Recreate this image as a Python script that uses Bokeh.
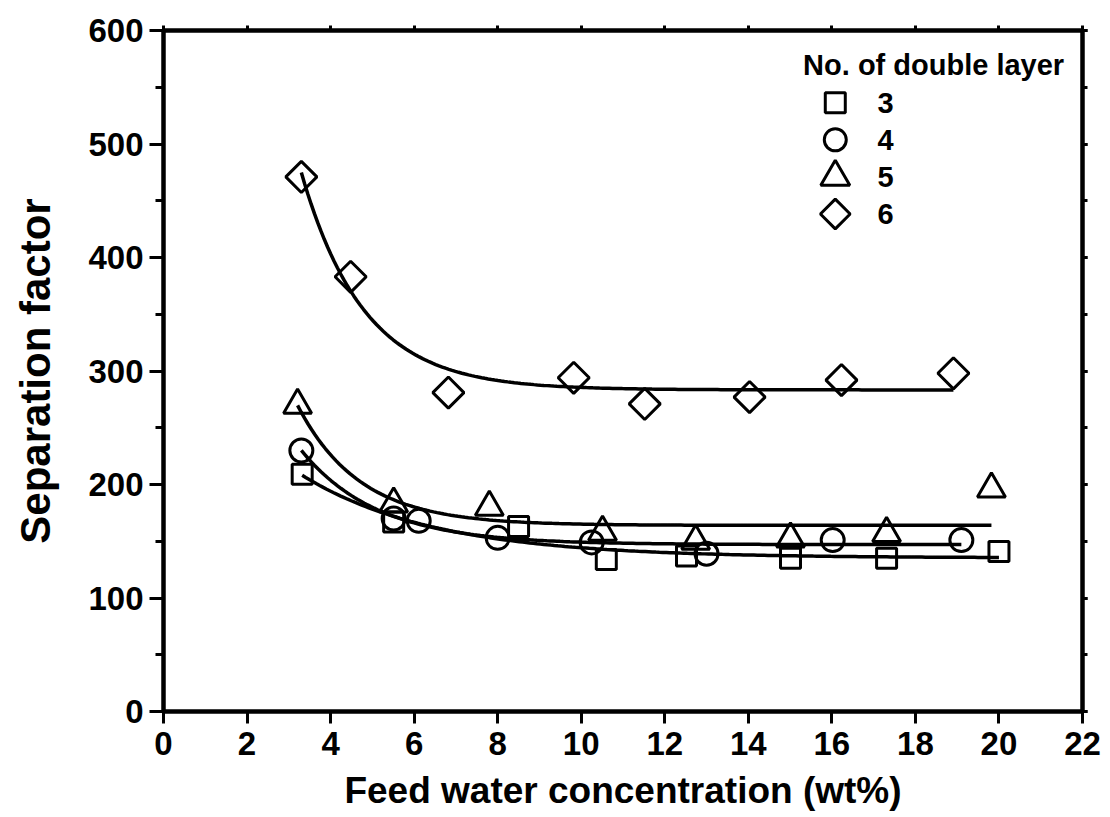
import numpy as np
from bokeh.plotting import figure
from bokeh.models import LinearAxis, SingleIntervalTicker, Range1d, CustomJSTickFormatter
from bokeh.core.properties import value
from bokeh.embed import file_html
from bokeh.resources import INLINE

# ---------------- data ----------------
x_3 = [3.32, 5.51, 8.50, 10.60, 12.52, 15.01, 17.31, 20.00]
y_3 = [209, 167, 163, 134, 137, 135, 135, 141]
x_4 = [3.30, 5.51, 6.11, 8.00, 10.25, 13.00, 16.02, 19.10]
y_4 = [230, 170, 168, 153, 149, 139, 151, 151]
x_5 = [3.21, 5.51, 7.80, 10.51, 12.74, 15.01, 17.31, 19.82]
y_5 = [270, 183, 180, 158, 150, 152, 157, 196]
x_6 = [3.30, 4.48, 6.82, 9.82, 11.52, 14.03, 16.23, 18.91]
y_6 = [471, 383, 281, 294, 271, 277, 292, 298]

layer_labels = ["3", "4", "5", "6"]
legend_title = "No. of double layer"
x_title = "Feed water concentration (wt%)"
y_title = "Separation factor"

FONT = "Liberation Sans"


def expdec_fit(x, y):
    """First-order exponential decay fit y = y0 + A*exp(-(x-xmin)/t)."""
    x = np.asarray(x, float)
    y = np.asarray(y, float)
    best = None
    for t in np.linspace(0.2, 15, 3000):
        B = np.column_stack([np.ones_like(x), np.exp(-(x - x.min()) / t)])
        coef, *_ = np.linalg.lstsq(B, y, rcond=None)
        r = np.sum((B @ coef - y) ** 2)
        if best is None or r < best[0]:
            best = (r, t, coef)
    _, t, (y0, A) = best
    xs = np.linspace(x.min(), x.max(), 200)
    return xs, y0 + A * np.exp(-(xs - x.min()) / t)


p = figure(width=1110, height=817, output_backend="svg", toolbar_location=None,
           x_range=Range1d(0, 22), y_range=Range1d(0, 600),
           min_border_left=163, min_border_right=28, min_border_top=30,
           min_border_bottom=106,
           x_axis_label=x_title, y_axis_label=y_title)
p.background_fill_color = "white"
p.border_fill_color = "white"
p.xgrid.visible = False
p.ygrid.visible = False
p.outline_line_color = "black"
p.outline_line_width = 4

# bottom axis
xa = p.below[0]
xa.ticker = SingleIntervalTicker(interval=2, num_minor_ticks=0)
xa.axis_line_width = 4
xa.major_tick_line_width = 3
xa.major_tick_in = 0
xa.major_tick_out = 12
xa.major_label_standoff = 8
xa.major_label_text_font = FONT
xa.major_label_text_font_style = "bold"
xa.major_label_text_font_size = "33px"
xa.major_label_text_color = "black"
xa.axis_label_text_font = FONT
xa.axis_label_text_font_style = "bold"
xa.axis_label_text_font_size = "37px"
xa.axis_label_text_color = "black"
xa.axis_label_standoff = 12

# left axis
ya = p.left[0]
ya.ticker = SingleIntervalTicker(interval=100, num_minor_ticks=2)
ya.axis_line_width = 4
ya.major_tick_line_width = 3
ya.minor_tick_line_width = 3
ya.major_tick_in = 0
ya.major_tick_out = 14
ya.minor_tick_in = 0
ya.minor_tick_out = 8
ya.major_label_standoff = 6
ya.major_label_text_font = FONT
ya.major_label_text_font_style = "bold"
ya.major_label_text_font_size = "33px"
ya.major_label_text_color = "black"
ya.axis_label_text_font = FONT
ya.axis_label_text_font_style = "bold"
ya.axis_label_text_font_size = "42px"
ya.axis_label_text_color = "black"
ya.axis_label_standoff = 26

# top / right mirror axes (ticks only, no labels)
blank = CustomJSTickFormatter(code="return ''")
top = LinearAxis(ticker=SingleIntervalTicker(interval=2, num_minor_ticks=0),
                 formatter=blank,
                 axis_line_width=4, major_tick_line_width=3,
                 major_tick_in=0, major_tick_out=5, major_label_standoff=0)
p.add_layout(top, "above")
right = LinearAxis(ticker=SingleIntervalTicker(interval=100, num_minor_ticks=2),
                   formatter=blank,
                   axis_line_width=4, major_tick_line_width=3,
                   minor_tick_line_width=3,
                   major_tick_in=0, major_tick_out=5,
                   minor_tick_in=0, minor_tick_out=5, major_label_standoff=0)
p.add_layout(right, "right")

# fit curves
for xs_, ys_ in [(x_3, y_3), (x_4, y_4), (x_5, y_5), (x_6, y_6)]:
    fx, fy = expdec_fit(xs_, ys_)
    p.line(fx, fy, line_color="black", line_width=3.5)

mk = dict(line_color="black", line_width=3, fill_color=None)
p.scatter(x_3, y_3, marker="square", size=20, **mk)
p.scatter(x_4, y_4, marker="circle", size=23, **mk)
p.scatter(x_5, y_5, marker="triangle", size=28, **mk)
p.scatter(x_6, y_6, marker="square", size=22, angle=np.pi / 4, **mk)

# ---------------- legend (keys + labels) ----------------
xr, yr = p.x_range, p.y_range
leg_title_x = xr.start + 0.696 * (xr.end - xr.start)
leg_key_x = xr.start + 0.731 * (xr.end - xr.start)
leg_lab_x = xr.start + 0.777 * (xr.end - xr.start)
leg_title_y = yr.start + 0.950 * (yr.end - yr.start)
leg_top_y = yr.start + 0.894 * (yr.end - yr.start)
leg_step = 0.0545 * (yr.end - yr.start)
key_y = [leg_top_y - i * leg_step for i in range(4)]

p.text(x=[leg_title_x], y=[leg_title_y], text=[legend_title],
       text_font=value(FONT), text_font_style="bold", text_font_size="29px",
       text_color="black", text_align="left", text_baseline="middle")
p.text(x=[leg_lab_x] * 4, y=key_y, text=layer_labels,
       text_font=value(FONT), text_font_style="bold", text_font_size="29px",
       text_color="black", text_align="left", text_baseline="middle")
p.scatter([leg_key_x], [key_y[0]], marker="square", size=20, **mk)
p.scatter([leg_key_x], [key_y[1]], marker="circle", size=22, **mk)
p.scatter([leg_key_x], [key_y[2]], marker="triangle", size=29, **mk)
p.scatter([leg_key_x], [key_y[3]], marker="square", size=21, angle=np.pi / 4, **mk)

open("out.html", "w").write(file_html(p, INLINE))
